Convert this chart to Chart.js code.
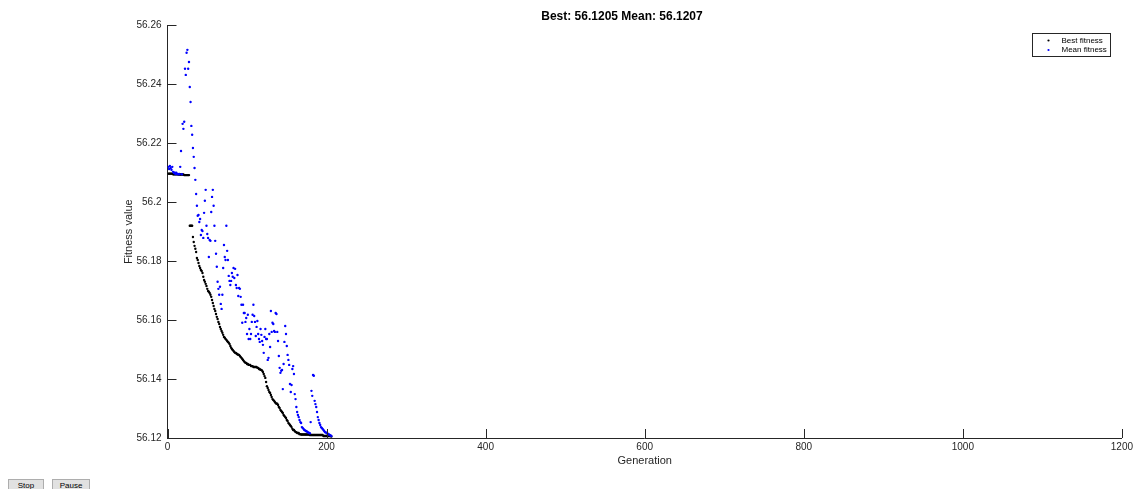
<!DOCTYPE html>
<html>
<head>
<meta charset="utf-8">
<script src="https://cdn.jsdelivr.net/npm/chart.js@4.4.1/dist/chart.umd.min.js"></script>
<style>
  body { margin: 0; background: #fff; }
  #wrap { position: relative; width: 1136px; height: 489px; overflow: hidden; }
  .btn { position: absolute; top: 479px; height: 14px; font: 8px "Liberation Sans", Arial, sans-serif;
         background: #e1e1e1; border: 1px solid #adadad; color: #000; padding: 0; line-height: 12px; text-align: center; }
</style>
</head>
<body>
<div id="wrap">
  <canvas id="gaPlot" width="1136" height="489"></canvas>
  <button class="btn" style="left:8px;width:36px;">Stop</button>
  <button class="btn" style="left:52px;width:38px;">Pause</button>
</div>
<script>
/* GA fitness plot */

// best fitness per generation (1..206)
var bestFitness = [
  56.2097, 56.2097, 56.2097, 56.2097, 56.2097, 56.2097, 56.2095, 56.2095, 56.2095, 56.2095,
  56.2095, 56.2095, 56.2095, 56.2094, 56.2094, 56.2094, 56.2094, 56.2094, 56.2094, 56.2094,
  56.2092, 56.2092, 56.2092, 56.2092, 56.2092, 56.2092, 56.2092, 56.1920, 56.1920, 56.1920,
  56.1920, 56.1882, 56.1865, 56.1852, 56.1842, 56.1831, 56.1811, 56.1804, 56.1794, 56.1784,
  56.1777, 56.1770, 56.1767, 56.1760, 56.1747, 56.1736, 56.1730, 56.1723, 56.1716, 56.1706,
  56.1699, 56.1696, 56.1692, 56.1686, 56.1679, 56.1668, 56.1658, 56.1648, 56.1638, 56.1631,
  56.1621, 56.1611, 56.1604, 56.1594, 56.1587, 56.1577, 56.1570, 56.1563, 56.1557, 56.1550,
  56.1543, 56.1540, 56.1536, 56.1533, 56.1529, 56.1526, 56.1523, 56.1519, 56.1512, 56.1506,
  56.1502, 56.1499, 56.1495, 56.1492, 56.1489, 56.1489, 56.1485, 56.1485, 56.1482, 56.1482,
  56.1478, 56.1475, 56.1472, 56.1468, 56.1465, 56.1461, 56.1458, 56.1455, 56.1455, 56.1451,
  56.1451, 56.1448, 56.1448, 56.1448, 56.1444, 56.1444, 56.1444, 56.1441, 56.1441, 56.1441,
  56.1441, 56.1441, 56.1438, 56.1438, 56.1434, 56.1434, 56.1431, 56.1431, 56.1428, 56.1424,
  56.1417, 56.1410, 56.1404, 56.1390, 56.1376, 56.1370, 56.1363, 56.1356, 56.1353, 56.1346,
  56.1339, 56.1332, 56.1329, 56.1326, 56.1322, 56.1319, 56.1316, 56.1316, 56.1312, 56.1305,
  56.1302, 56.1295, 56.1292, 56.1288, 56.1285, 56.1278, 56.1275, 56.1271, 56.1268, 56.1261,
  56.1258, 56.1251, 56.1248, 56.1244, 56.1241, 56.1237, 56.1231, 56.1227, 56.1227, 56.1224,
  56.1220, 56.1220, 56.1217, 56.1217, 56.1217, 56.1213, 56.1213, 56.1212, 56.1212, 56.1212,
  56.1212, 56.1212, 56.1212, 56.1212, 56.1212, 56.1212, 56.1212, 56.1212, 56.1210, 56.1210,
  56.1210, 56.1210, 56.1210, 56.1210, 56.1210, 56.1210, 56.1210, 56.1210, 56.1210, 56.1210,
  56.1210, 56.1210, 56.1210, 56.1210, 56.1210, 56.1207, 56.1207, 56.1207, 56.1207, 56.1207,
  56.1207, 56.1207, 56.1207, 56.1207, 56.1207, 56.1205
];

// mean fitness per generation (1..206)
var meanFitness = [
  56.2120, 56.2113, 56.2123, 56.2116, 56.2110, 56.2120, 56.2103, 56.2100, 56.2100, 56.2096,
  56.2100, 56.2096, 56.2096, 56.2095, 56.2096, 56.2120, 56.2174, 56.2095, 56.2266, 56.2249,
  56.2273, 56.2453, 56.2432, 56.2507, 56.2517, 56.2453, 56.2476, 56.2391, 56.2340, 56.2259,
  56.2229, 56.2184, 56.2154, 56.2116, 56.2076, 56.2028, 56.1988, 56.1954, 56.1957, 56.1933,
  56.1943, 56.1889, 56.1906, 56.1902, 56.1879, 56.1964, 56.2005, 56.2042, 56.1920, 56.1892,
  56.1879, 56.1814, 56.1872, 56.1869, 56.1967, 56.2018, 56.2042, 56.1988, 56.1920, 56.1869,
  56.1825, 56.1781, 56.1730, 56.1706, 56.1686, 56.1713, 56.1655, 56.1638, 56.1686, 56.1777,
  56.1855, 56.1814, 56.1804, 56.1920, 56.1835, 56.1804, 56.1750, 56.1733, 56.1719, 56.1733,
  56.1760, 56.1747, 56.1777, 56.1743, 56.1774, 56.1719, 56.1709, 56.1753, 56.1682, 56.1709,
  56.1706, 56.1679, 56.1652, 56.1591, 56.1652, 56.1624, 56.1624, 56.1594, 56.1607, 56.1553,
  56.1618, 56.1536, 56.1570, 56.1536, 56.1553, 56.1594, 56.1618, 56.1652, 56.1614, 56.1594,
  56.1546, 56.1577, 56.1597, 56.1553, 56.1536, 56.1526, 56.1570, 56.1550, 56.1529, 56.1516,
  56.1489, 56.1543, 56.1570, 56.1536, 56.1536, 56.1465, 56.1472, 56.1553, 56.1509, 56.1631,
  56.1560, 56.1591, 56.1587, 56.1563, 56.1560, 56.1624, 56.1621, 56.1560, 56.1529, 56.1478,
  56.1438, 56.1421, 56.1428, 56.1431, 56.1366, 56.1451, 56.1526, 56.1580, 56.1553, 56.1512,
  56.1482, 56.1465, 56.1448, 56.1383, 56.1356, 56.1380, 56.1434, 56.1444, 56.1417, 56.1349,
  56.1332, 56.1305, 56.1288, 56.1278, 56.1271, 56.1261, 56.1254, 56.1251, 56.1237, 56.1234,
  56.1231, 56.1227, 56.1226, 56.1224, 56.1223, 56.1220, 56.1219, 56.1217, 56.1216, 56.1254,
  56.1360, 56.1343, 56.1414, 56.1411, 56.1326, 56.1315, 56.1305, 56.1288, 56.1271, 56.1261,
  56.1251, 56.1244, 56.1237, 56.1234, 56.1231, 56.1227, 56.1224, 56.1220, 56.1219, 56.1217,
  56.1216, 56.1213, 56.1212, 56.1210, 56.1209, 56.1207
];

var seriesNames = ['Best fitness', 'Mean fitness'];
var seriesColors = ['#000000', '#0000ff'];
var xTicks = [0, 200, 400, 600, 800, 1000, 1200];
var yTicks = [56.12, 56.14, 56.16, 56.18, 56.2, 56.22, 56.24, 56.26];
var titleText = 'Best: 56.1205 Mean: 56.1207';

var FONT = '"Liberation Sans", Arial, Helvetica, sans-serif';
var AXIS = '#262626';

function toPoints(arr) {
  return arr.map(function (v, i) { return {x: i + 1, y: v}; });
}

// matlab style ticks pointing into the axes
var inwardTicks = {
  id: 'inwardTicks',
  afterDraw: function (chart) {
    var ctx = chart.ctx, a = chart.chartArea;
    var xs = chart.scales.x, ys = chart.scales.y;
    ctx.save();
    ctx.strokeStyle = AXIS;
    ctx.lineWidth = 1;
    xTicks.forEach(function (t) {
      var px = Math.round(xs.getPixelForValue(t)) + 0.5;
      ctx.beginPath(); ctx.moveTo(px, a.bottom); ctx.lineTo(px, a.bottom - 9); ctx.stroke();
    });
    yTicks.forEach(function (t) {
      var py = Math.round(ys.getPixelForValue(t)) + 0.5;
      ctx.beginPath(); ctx.moveTo(a.left, py); ctx.lineTo(a.left + 9, py); ctx.stroke();
    });
    ctx.restore();
  }
};

// legend box in the upper right corner
var boxLegend = {
  id: 'boxLegend',
  afterDraw: function (chart) {
    var ctx = chart.ctx;
    var bx = 1032.5, by = 33.5, bw = 78, bh = 23;
    ctx.save();
    ctx.fillStyle = '#fff';
    ctx.fillRect(bx, by, bw, bh);
    ctx.strokeStyle = AXIS;
    ctx.lineWidth = 1;
    ctx.strokeRect(bx, by, bw, bh);
    ctx.font = '8px ' + FONT;
    ctx.textBaseline = 'middle';
    chart.data.datasets.forEach(function (ds, i) {
      var cy = by + 7 + i * 9.5;
      ctx.fillStyle = ds.backgroundColor;
      ctx.beginPath(); ctx.arc(bx + 16, cy, 1.1, 0, Math.PI * 2); ctx.fill();
      ctx.fillStyle = '#000';
      ctx.fillText(ds.label, bx + 29, cy);
    });
    ctx.restore();
  }
};

var chGa = document.getElementById('gaPlot');
new Chart(chGa, {
  type: 'scatter',
  data: {
    datasets: [
      {label: seriesNames[0], data: toPoints(bestFitness), backgroundColor: seriesColors[0],
       pointRadius: 1.2, pointBorderWidth: 0, order: 2},
      {label: seriesNames[1], data: toPoints(meanFitness), backgroundColor: seriesColors[1],
       pointRadius: 1.2, pointBorderWidth: 0, order: 1}
    ]
  },
  options: {
    responsive: false,
    animation: false,
    devicePixelRatio: 1,
    layout: {padding: {left: 122, right: 14, top: 0, bottom: 21}},
    plugins: {
      legend: {display: false},
      tooltip: {enabled: false},
      title: {display: true, text: titleText, color: '#000',
              font: {family: FONT, size: 12, weight: 'bold'}, padding: {top: 9, bottom: 2}}
    },
    scales: {
      x: {
        type: 'linear', min: 0, max: 1200,
        grid: {display: false, drawTicks: false, tickLength: 0},
        border: {display: true, color: AXIS, width: 1},
        afterBuildTicks: function (s) { s.ticks = xTicks.map(function (v) { return {value: v}; }); },
        ticks: {color: AXIS, font: {family: FONT, size: 10}, padding: 3, maxRotation: 0,
                callback: function (v) { return String(v); }},
        title: {display: true, text: 'Generation', color: AXIS, font: {family: FONT, size: 11}, padding: 0},
        afterFit: function (s) { s.height = 30; }
      },
      y: {
        type: 'linear', min: 56.12, max: 56.26,
        grid: {display: false, drawTicks: false, tickLength: 0},
        border: {display: true, color: AXIS, width: 1},
        afterBuildTicks: function (s) { s.ticks = yTicks.map(function (v) { return {value: v}; }); },
        ticks: {color: AXIS, font: {family: FONT, size: 10}, padding: 6,
                callback: function (v) { return String(Number(v.toFixed(2))); }},
        title: {display: true, text: 'Fitness value', color: AXIS, font: {family: FONT, size: 11}, padding: 0},
        afterFit: function (s) { s.width = 45.5; }
      }
    }
  },
  plugins: [inwardTicks, boxLegend]
});
</script>
</body>
</html>
